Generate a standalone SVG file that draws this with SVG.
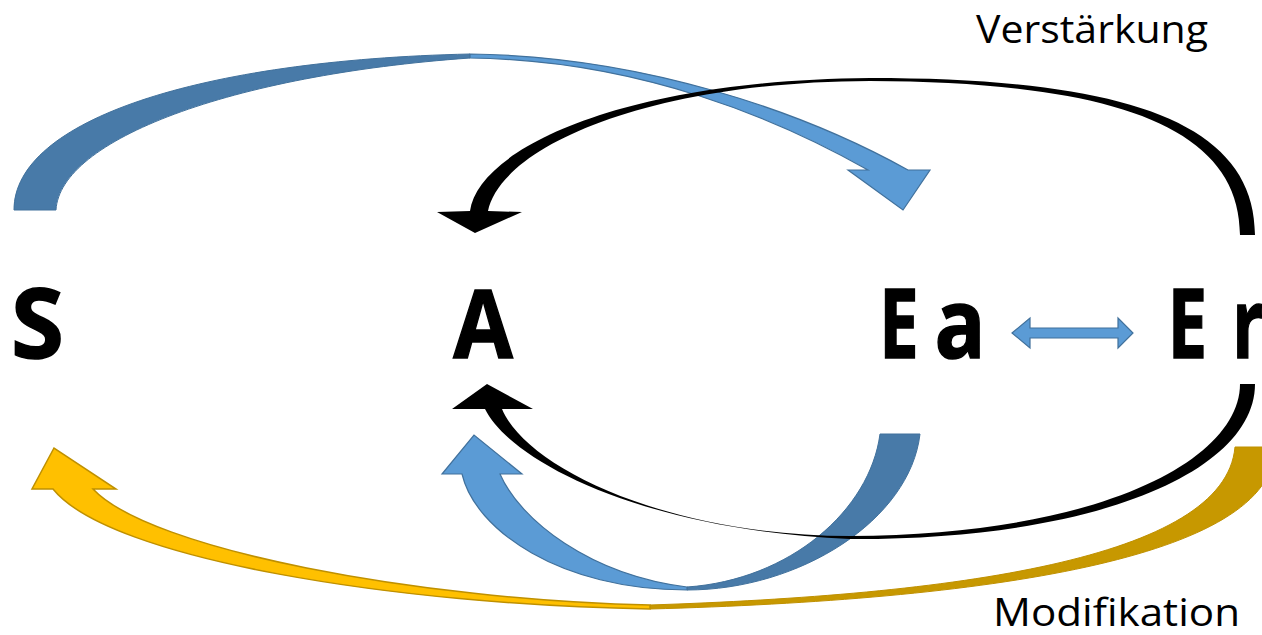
<svg xmlns="http://www.w3.org/2000/svg" width="1262" height="635" viewBox="0 0 1262 635">
<style>
.node{font-family:"Open Sans","Noto Sans","Liberation Sans",sans-serif;font-weight:bold;font-size:96px;fill:#000;stroke:#000;stroke-width:1.5}
.lbl{font-family:"Open Sans","Noto Sans","Liberation Sans",sans-serif;font-size:38px;fill:#000}
.bdark{fill:#487aa8;stroke:#41719c;stroke-width:1}
.blight{fill:#5b9bd5;stroke:#41719c;stroke-width:1.2}
.ydark{fill:#c79800;stroke:#bf9000;stroke-width:1}
.ylight{fill:#ffc000;stroke:#bf9000;stroke-width:1.5}
.blk{fill:#000;stroke:none}
</style>
<rect width="1262" height="635" fill="#fff"/>
<g id="connectors">
  <g id="blue-top">
    <path class="bdark" d="M14,210 C14,120 200,60 470,54 L470,58 C230,75 60,140 56,210 Z"/>
    <path class="blight" d="M470,54 C640,56 800,110 908,170 L930,170 L903,210 L848,170 L868,170 C780,120 640,60 470,58 Z"/>
  </g>
  <g id="yellow-bottom">
    <path class="ydark" d="M650,609 C980,600 1275,560 1275,447 L1235,447 C1225,560 950,595 650,605 Z"/>
    <path class="ylight" d="M650,609 C400,605 110,560 53,489 L32,489 L54,448 L116,489 L93,489 C150,550 420,600 650,605 Z"/>
  </g>
  <g id="blue-bottom">
    <path class="bdark" d="M687,590 C800,590 910,520 920,434 L880,434 C870,510 790,580 687,587 Z"/>
    <path class="blight" d="M687,590 C560,590 475,530 462,474 L442,474 L474,435 L522,474 L500,474 C520,520 590,575 687,587 Z"/>
  </g>
  <g id="black-top">
    <path class="blk" d="M1255,235 C1255,120 1120,78 870,78 C620,80 478,150 470,211 L437,212 L475,233 L522,212 L488,211 C500,150 640,82 870,81 C1110,82 1240,125 1240,235 Z"/>
  </g>
  <g id="black-bottom">
    <path class="blk" d="M1255,384 C1255,470 1100,540 850,539 C640,530 510,460 485,409 L452,409 L487,384 L533,409 L502,409 C525,465 660,535 850,536 C1100,535 1240,460 1240,384 Z"/>
  </g>
  <g id="double-arrow">
    <path class="blight" d="M1012,333 L1030,318 L1030,328 L1118,328 L1118,318 L1133,333 L1118,348 L1118,338 L1030,338 L1030,348 Z"/>
  </g>
</g>
<g id="node-S"><text class="node" text-anchor="middle" transform="translate(37.5 358)">S</text></g>
<g id="node-A"><text class="node" text-anchor="middle" transform="translate(483 358) scale(0.9 1)">A</text></g>
<g id="node-Ea"><text class="node" text-anchor="middle" transform="translate(899 358) scale(0.74 1)">E</text><text class="node" text-anchor="middle" transform="translate(960 358) scale(0.88 1)">a</text></g>
<g id="node-Er"><text class="node" text-anchor="middle" transform="translate(1187.5 358) scale(0.74 1)">E</text><text class="node" text-anchor="middle" transform="translate(1248 358) scale(0.72 1)">r</text></g>
<g id="label-verstaerkung"><text class="lbl" x="976" y="43" textLength="232" lengthAdjust="spacingAndGlyphs">Verstärkung</text></g>
<g id="label-modifikation"><text class="lbl" x="993" y="626" textLength="247" lengthAdjust="spacingAndGlyphs">Modifikation</text></g>
</svg>
